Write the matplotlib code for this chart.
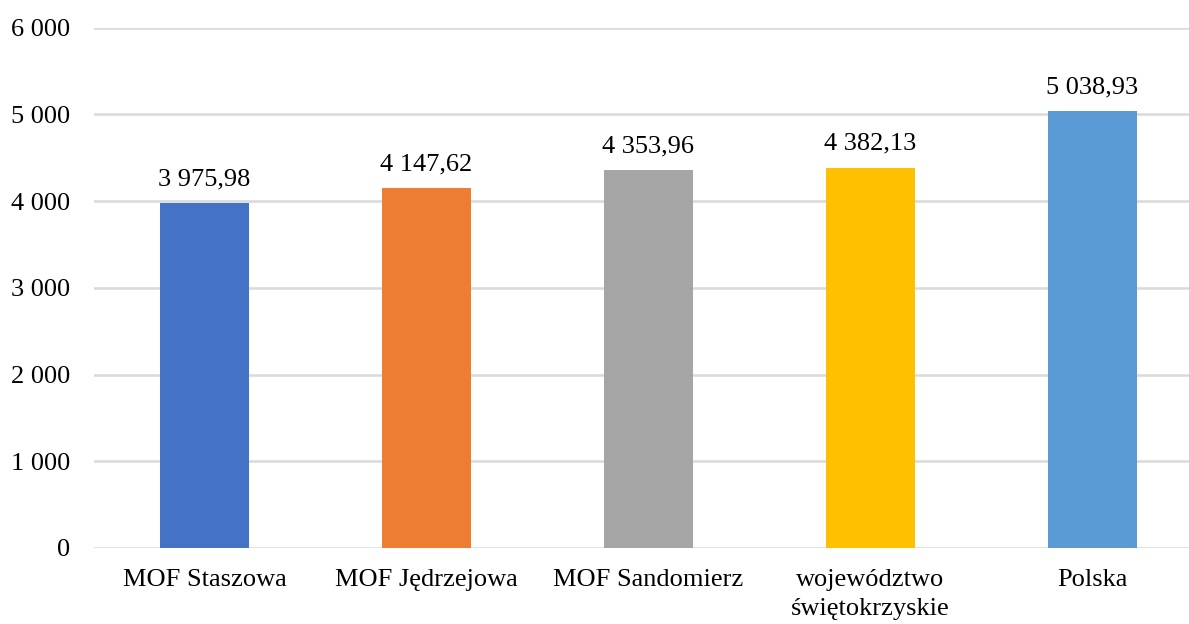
import matplotlib.pyplot as plt
from matplotlib.ticker import FuncFormatter

categories = ["MOF Staszowa", "MOF Jędrzejowa", "MOF Sandomierz",
              "województwo\nświętokrzyskie", "Polska"]
values = [3975.98, 4147.62, 4353.96, 4382.13, 5038.93]
colors = ["#4472C4", "#ED7D31", "#A5A5A5", "#FFC000", "#5B9BD5"]
yticks = [0, 1000, 2000, 3000, 4000, 5000, 6000]

plt.rcParams['font.family'] = ['Liberation Serif', 'DejaVu Serif']

def pl_num(v, decimals=0):
    s = f"{v:,.{decimals}f}"
    return s.replace(",", " ").replace(".", ",")

fig = plt.figure(figsize=(11.89, 6.24), dpi=100)
ax = fig.add_axes([93.5 / 1189, 76 / 624, (1189 - 93.5) / 1189, 520.3 / 624])

x = range(len(categories))
ax.bar(x, values, width=0.4, color=colors, zorder=3)

for i, v in enumerate(values):
    ax.annotate(pl_num(v, 2), (i, v), xytext=(0, 13), textcoords="offset points",
                ha="center", va="baseline", fontsize=19, color="#000000")

ax.set_xlim(-0.5, 4.435)
ax.set_ylim(0, 6000)
ax.set_yticks(yticks)
ax.yaxis.set_major_formatter(FuncFormatter(lambda v, p: pl_num(v)))
ax.set_xticks(list(x))
ax.set_xticklabels(categories, linespacing=1.45)
ax.tick_params(axis="both", length=0, labelsize=19, colors="#000000")
ax.tick_params(axis="y", pad=17)
ax.tick_params(axis="x", pad=15)

ax.grid(axis="y", color="#d9d9d9", linewidth=1.8, zorder=0)
for s in ax.spines.values():
    s.set_visible(False)

fig.savefig("out.png", dpi=100)
